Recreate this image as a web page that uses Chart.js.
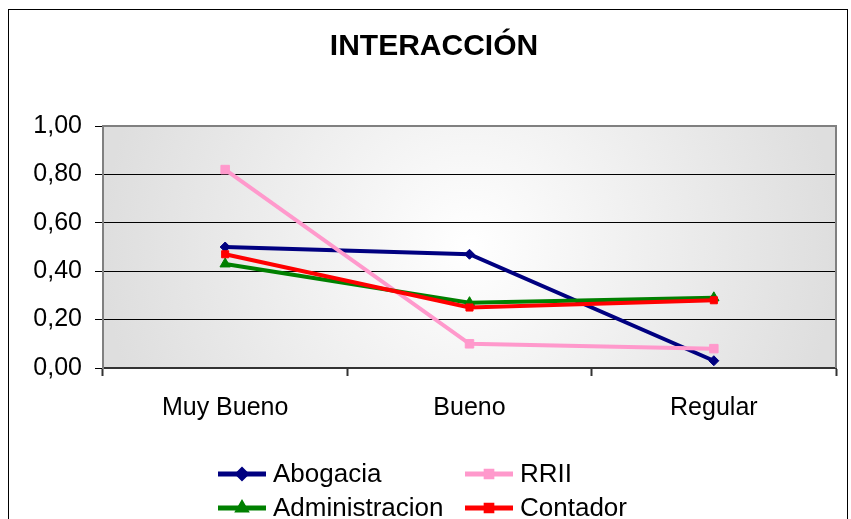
<!DOCTYPE html>
<html>
<head>
<meta charset="utf-8">
<script src="https://cdn.jsdelivr.net/npm/chart.js@4.4.1/dist/chart.umd.min.js"></script>
<style>
    html, body { margin: 0; padding: 0; background: #fff; }
    #wrap { width: 851px; height: 519px; position: relative; }
</style>
</head>
<body>
<div id="wrap"><canvas id="chart" width="851" height="519"></canvas></div>
<script>
const categories = ['Muy Bueno', 'Bueno', 'Regular'];
const abogacia = [0.50, 0.47, 0.03];
const rrii = [0.82, 0.10, 0.08];
const administracion = [0.43, 0.27, 0.29];
const contador = [0.47, 0.25, 0.28];
const yTicks = [0, 0.2, 0.4, 0.6, 0.8, 1.0];
const chartTitle = 'INTERACCIÓN';

const FONT = "'Liberation Sans', Arial, sans-serif";

// series in Excel order: later ones are painted on top
const series = [
    { label: 'Abogacia', data: abogacia, color: '#000080', style: 'rectRot', radius: 5 },
    { label: 'RRII', data: rrii, color: '#FF99CC', style: 'rect', radius: 6 },
    { label: 'Administracion', data: administracion, color: '#008000', style: 'triangle', radius: 6 },
    { label: 'Contador', data: contador, color: '#FF0000', style: 'rect', radius: 5 },
];

// plot area background + frame + outer border + title
const plotBackground = {
    id: 'plotBackground',
    beforeDraw(chart) {
        const { ctx, chartArea: a } = chart;
        ctx.save();
        ctx.strokeStyle = '#000';
        ctx.lineWidth = 1;
        ctx.strokeRect(8.5, 9.5, 839, 600);
        const cx = (a.left + a.right) / 2;
        const cy = (a.top + a.bottom) / 2;
        const g = ctx.createRadialGradient(cx, cy, 0, cx, cy, (a.right - a.left) / 2);
        g.addColorStop(0, '#ffffff');
        g.addColorStop(1, '#dedede');
        ctx.fillStyle = g;
        ctx.fillRect(a.left, a.top, a.right - a.left, a.bottom - a.top);

        // title (Excel centres it a bit right of the canvas middle)
        ctx.fillStyle = '#000';
        ctx.font = `bold 30px ${FONT}`;
        ctx.textAlign = 'center';
        ctx.textBaseline = 'middle';
        ctx.fillText(chartTitle, 434, 47);
        ctx.restore();
    },
    afterDatasetsDraw(chart) {
        const { ctx, chartArea: a } = chart;
        ctx.save();
        ctx.strokeStyle = '#808080';
        ctx.lineWidth = 2;
        ctx.beginPath();
        ctx.moveTo(a.left, a.top);
        ctx.lineTo(a.right, a.top);
        ctx.lineTo(a.right, a.bottom);
        ctx.stroke();
        ctx.restore();
    },
};

// two-column legend like the Excel one
const gridLegend = {
    id: 'gridLegend',
    afterDraw(chart) {
        const { ctx } = chart;
        const cols = [218, 465];
        const rows = [474, 508];
        ctx.save();
        ctx.font = `26px ${FONT}`;
        ctx.textBaseline = 'middle';
        series.forEach((s, i) => {
            const x = cols[i % 2];
            const y = rows[Math.floor(i / 2)];
            ctx.strokeStyle = s.color;
            ctx.lineWidth = 5;
            ctx.beginPath();
            ctx.moveTo(x, y);
            ctx.lineTo(x + 48, y);
            ctx.stroke();
            ctx.fillStyle = s.color;
            Chart.helpers.drawPoint(ctx, { pointStyle: s.style, radius: 4, rotation: 0, borderWidth: 1 }, x + 24, y);
            ctx.fillStyle = '#000';
            ctx.fillText(s.label, x + 55, y + 1);
        });
        ctx.restore();
    },
};

new Chart(document.getElementById('chart').getContext('2d'), {
    type: 'line',
    data: {
        labels: categories,
        datasets: series.map((s, i) => ({
            label: s.label,
            data: s.data,
            borderColor: s.color,
            backgroundColor: s.color,
            borderWidth: 4,
            pointStyle: s.style,
            pointRadius: s.radius,
            pointBorderWidth: 1,
            tension: 0,
            order: series.length - i,
        })),
    },
    plugins: [plotBackground, gridLegend],
    options: {
        responsive: false,
        animation: false,
        events: [],
        layout: {
            padding: { left: 10, right: 15, top: 126, bottom: 81 },
        },
        plugins: {
            legend: { display: false },
            tooltip: { enabled: false },
            title: { display: false },
        },
        scales: {
            x: {
                offset: true,
                afterFit: (s) => { s.height = 70; },
                grid: {
                    offset: true,
                    drawOnChartArea: false,
                    tickLength: 8,
                    tickWidth: 2,
                    tickColor: '#333',
                },
                border: { color: '#333', width: 2 },
                ticks: {
                    color: '#000',
                    padding: 17,
                    font: { family: FONT, size: 25 },
                },
            },
            y: {
                min: 0,
                max: 1,
                afterFit: (s) => { s.width = 93; },
                afterBuildTicks: (s) => { s.ticks = yTicks.map((v) => ({ value: v })); },
                grid: {
                    color: '#000',
                    lineWidth: 1,
                    tickLength: 8,
                },
                border: { color: '#808080', width: 2 },
                ticks: {
                    color: '#000',
                    padding: 13,
                    font: { family: FONT, size: 25 },
                    callback: (v) => v.toFixed(2).replace('.', ','),
                },
            },
        },
    },
});
</script>
</body>
</html>
